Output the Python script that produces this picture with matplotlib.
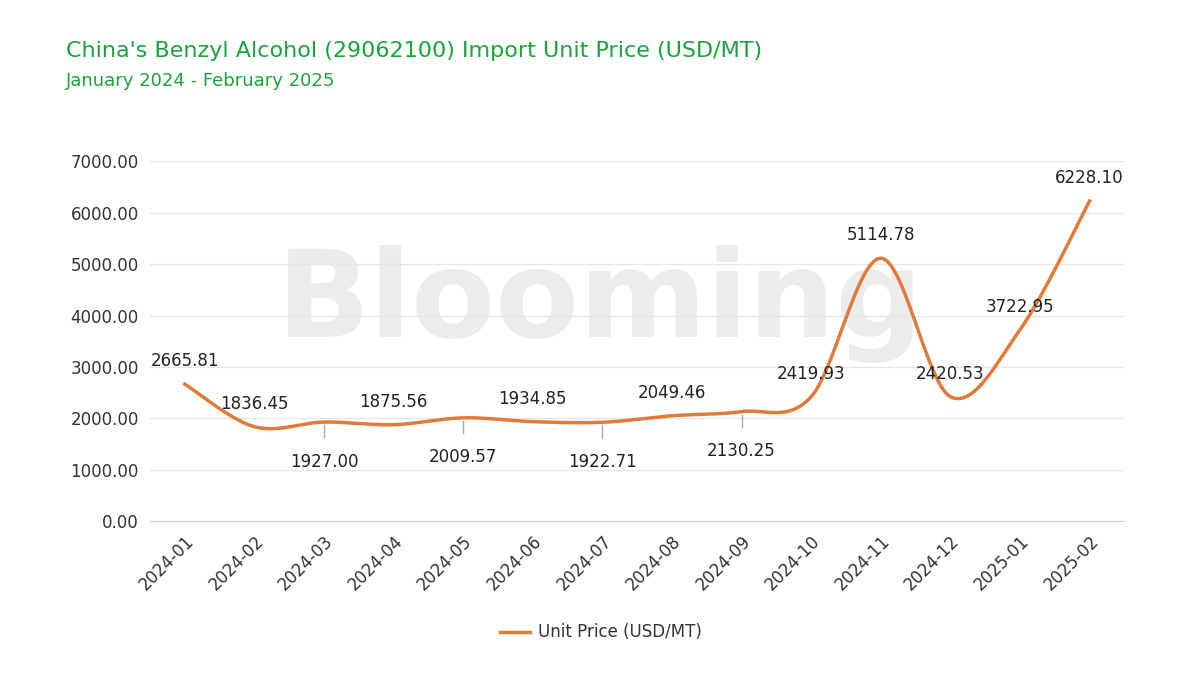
import matplotlib.pyplot as plt
import numpy as np

months = ['2024-01', '2024-02', '2024-03', '2024-04', '2024-05', '2024-06', '2024-07',
          '2024-08', '2024-09', '2024-10', '2024-11', '2024-12', '2025-01', '2025-02']
prices = [2665.81, 1836.45, 1927.00, 1875.56, 2009.57, 1934.85, 1922.71,
          2049.46, 2130.25, 2419.93, 5114.78, 2420.53, 3722.95, 6228.10]
# label placement: +1 above point, -1 below point
label_side = [1, 1, -1, 1, -1, 1, -1, 1, -1, 1, 1, 1, 1, 1]

LINE = '#e07b39'
GREEN = '#1aa33a'

fig = plt.figure(figsize=(12, 6.75), dpi=100)
ax = fig.add_axes([0.125, 0.228, 0.812, 0.533])
ax.patch.set_alpha(0)

x = np.arange(len(prices))
y = np.array(prices)

# Catmull-Rom style smoothing for drawing the curve only
xs, ys = [], []
pts = np.column_stack([x, y])
ext = np.vstack([pts[0], pts, pts[-1]])
for i in range(1, len(ext) - 2):
    p0, p1, p2, p3 = ext[i - 1], ext[i], ext[i + 1], ext[i + 2]
    t = np.linspace(0, 1, 30)[:, None]
    seg = 0.5 * ((2 * p1) + (-p0 + p2) * t + (2 * p0 - 5 * p1 + 4 * p2 - p3) * t ** 2
                 + (-p0 + 3 * p1 - 3 * p2 + p3) * t ** 3)
    xs.extend(seg[:, 0]); ys.extend(seg[:, 1])
ax.plot(xs, ys, color=LINE, lw=2.5, zorder=3)

for xi, yi, s in zip(x, y, label_side):
    if s > 0:
        ax.annotate(f'{yi:.2f}', (xi, yi), xytext=(0, 10), textcoords='offset points',
                    ha='center', va='bottom', fontsize=12, color='#222222', zorder=5)
    else:
        ax.plot([xi, xi], [yi - 60, yi - 300], color='#aaaaaa', lw=1)
        ax.annotate(f'{yi:.2f}', (xi, yi), xytext=(0, -22), textcoords='offset points',
                    ha='center', va='top', fontsize=12, color='#222222', zorder=5)

ax.set_xlim(-0.5, len(prices) - 0.5)
ax.set_ylim(0, 7000)
ax.set_yticks(np.arange(0, 7001, 1000))
ax.set_yticklabels([f'{v:.2f}' for v in np.arange(0, 7001, 1000)], fontsize=12, color='#333333')
ax.set_xticks(x)
ax.set_xticklabels(months, rotation=45, ha='right', rotation_mode='anchor', fontsize=12, color='#333333')
ax.grid(axis='y', color='#e6e6e6', lw=1)
ax.tick_params(length=0, pad=8)
for sp in ['top', 'right', 'left']:
    ax.spines[sp].set_visible(False)
ax.spines['bottom'].set_color('#cccccc')

# watermark, behind the axes
fig.text(0.5, 0.55, 'Blooming', fontsize=88, fontweight='bold', color='#ececec',
         ha='center', va='center', zorder=-1)

fig.text(0.055, 0.915, "China's Benzyl Alcohol (29062100) Import Unit Price (USD/MT)",
         fontsize=16, color=GREEN, fontweight='medium')
fig.text(0.055, 0.872, 'January 2024 - February 2025', fontsize=13, color=GREEN)

fig.lines.append(plt.Line2D([0.417, 0.442], [0.063, 0.063], transform=fig.transFigure,
                            color=LINE, lw=2.5))
fig.text(0.448, 0.063, 'Unit Price (USD/MT)', fontsize=12, color='#333333', va='center')

fig.savefig('out.png', dpi=100)
